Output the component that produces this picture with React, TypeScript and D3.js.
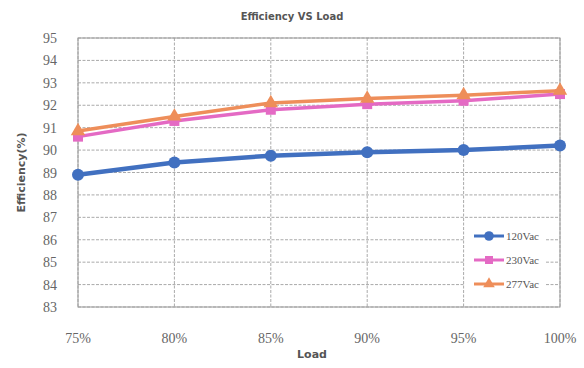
import React from "react";
import * as d3 from "d3";

const loads = ["75%", "80%", "85%", "90%", "95%", "100%"];
const yTicks = [83, 84, 85, 86, 87, 88, 89, 90, 91, 92, 93, 94, 95];
const v120 = [88.9, 89.45, 89.75, 89.9, 90.0, 90.2];
const v230 = [90.6, 91.3, 91.8, 92.05, 92.2, 92.5];
const v277 = [90.85, 91.5, 92.1, 92.3, 92.45, 92.65];
const seriesNames = ["120Vac", "230Vac", "277Vac"];

const W = 584, H = 368;
const L = 78, R = 560, T = 38, B = 307;

export default function App() {
  const x = d3.scalePoint<string>().domain(loads).range([L, R]);
  const y = d3.scaleLinear().domain([83, 95]).range([B, T]);
  const line = d3.line<number>().x((_, i) => x(loads[i])!).y((d) => y(d));
  const series = [
    { name: seriesNames[0], vals: v120, color: "#4170c0", width: 4.5, marker: "circle" },
    { name: seriesNames[1], vals: v230, color: "#e46ac4", width: 3.5, marker: "square" },
    { name: seriesNames[2], vals: v277, color: "#ee8e5a", width: 3.5, marker: "tri" },
  ];
  const marker = (m: string, cx: number, cy: number, color: string, s = 1) => {
    if (m === "circle") return <circle cx={cx} cy={cy} r={6 * s} fill={color} />;
    if (m === "square") return <rect x={cx - 5 * s} y={cy - 5 * s} width={10 * s} height={10 * s} fill={color} />;
    const p = d3.symbol(d3.symbolTriangle, 90 * s * s)()!;
    return <path d={p} transform={`translate(${cx},${cy})`} fill={color} />;
  };
  const serif = "'Liberation Serif', 'DejaVu Serif', serif";
  const sans = "'DejaVu Sans', 'Liberation Sans', sans-serif";
  return (
    <svg width={W} height={H} style={{ position: "absolute", left: 0, top: 0, background: "#fff" }}>
      <rect x={0} y={0} width={W} height={H} fill="#fff" />
      <text x={292} y={20} textAnchor="middle" fontFamily={sans} fontSize={10} fontWeight="bold" fill="#555">
        Efficiency VS Load
      </text>
      {yTicks.map((t) => (
        <g key={t}>
          <line x1={L} x2={R} y1={y(t)} y2={y(t)} stroke="#aaa" strokeWidth={1} strokeDasharray="3,1.5" />
          <text x={57} y={y(t) + 5} textAnchor="end" fontFamily={serif} fontSize={14} fill="#666">
            {t}
          </text>
        </g>
      ))}
      {loads.map((l) => (
        <g key={l}>
          <line x1={x(l)} x2={x(l)} y1={T} y2={B} stroke="#aaa" strokeWidth={1} strokeDasharray="3,1.5" />
          <text x={x(l)} y={343} textAnchor="middle" fontFamily={serif} fontSize={14} fill="#666">
            {l}
          </text>
        </g>
      ))}
      <rect x={L} y={T} width={R - L} height={B - T} fill="none" stroke="#999" strokeWidth={1} />
      {series.map((s) => (
        <g key={s.name}>
          <path d={line(s.vals)!} fill="none" stroke={s.color} strokeWidth={s.width} />
          {s.vals.map((v, i) => (
            <g key={i}>{marker(s.marker, x(loads[i])!, y(v), s.color)}</g>
          ))}
        </g>
      ))}
      <g>
        <rect x={465} y={222} width={80} height={76} fill="#fff" />
        {series.map((s, i) => {
          const ly = 236 + i * 24;
          return (
            <g key={s.name}>
              <line x1={474} x2={504} y1={ly} y2={ly} stroke={s.color} strokeWidth={3} />
              {marker(s.marker, 489, ly, s.color, 0.8)}
              <text x={506} y={ly + 4} fontFamily={serif} fontSize={11} fill="#555">
                {s.name}
              </text>
            </g>
          );
        })}
      </g>
      <text x={312} y={358} textAnchor="middle" fontFamily={sans} fontSize={11} fontWeight="bold" fill="#555">
        Load
      </text>
      <text
        transform={`translate(25,${(T + B) / 2}) rotate(-90)`}
        textAnchor="middle"
        fontFamily={sans}
        fontSize={11}
        fontWeight="bold"
        fill="#555"
      >
        Efficiency(%)
      </text>
    </svg>
  );
}
